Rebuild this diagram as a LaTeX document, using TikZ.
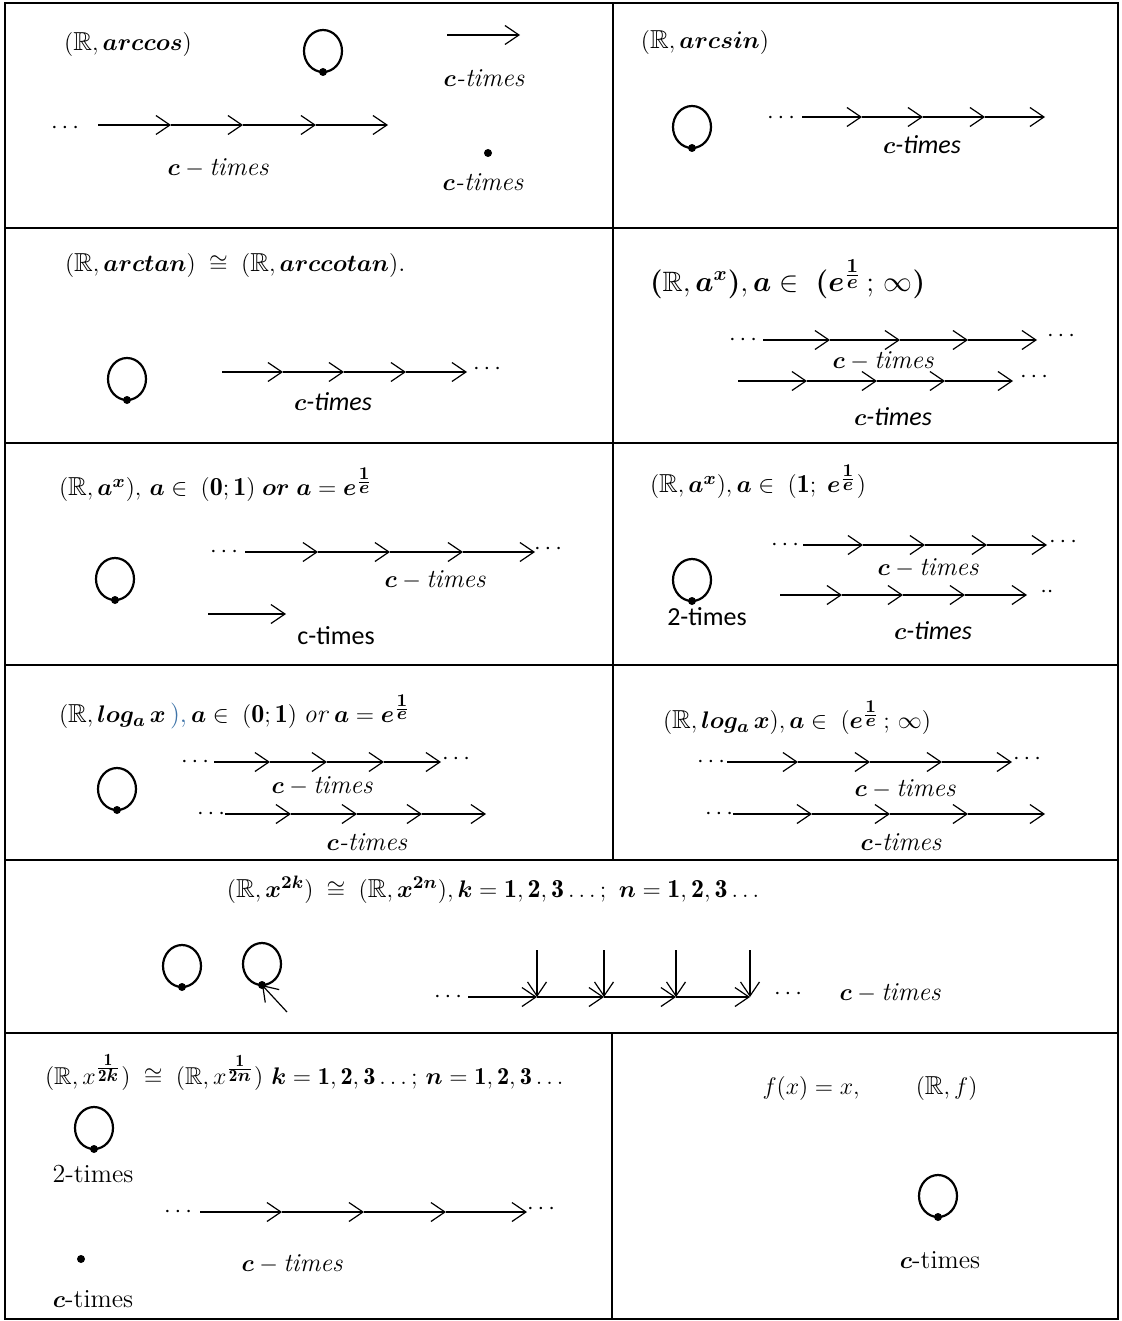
\documentclass[tikz,border=0pt]{standalone}
\usepackage{amsmath,amssymb,bm}
\usepackage{fontspec}
\newfontfamily\carlito{Carlito}
\usetikzlibrary{arrows.meta}
\definecolor{steel}{HTML}{3F74A8}
\newcommand\lp[3]{%
  \draw[loopc] (#2,#3) circle[x radius=19,y radius=21];
  \coordinate (#1) at (#2,#3+21);
  \fill (#1) circle[radius=4];}
\newcommand\chain[3]{%
  \foreach \xx [remember=\xx as \lx (initially #2)] in {#3} {\draw[arr] (\lx,#1) -- (\xx,#1);}}
\newcommand\ct{$\bm{c}$\textit{-times}}
\newcommand\cts{$\bm{c}${\carlito\itshape -times}}
\newcommand\cmt{$\bm{c}-\mathit{times}$}
\newcommand\ee{\bm{e^{\frac{\scriptstyle\mathbf{1}}{\scriptstyle e}}}}
\begin{document}
\begin{tikzpicture}[x=0.5pt,y=-0.5pt,
  every node/.style={inner sep=0pt,outer sep=0pt,font=\fontsize{13}{15}\selectfont},
  arr/.style={-{Straight Barb[length=7pt,width=9.5pt]},line width=0.6pt},
  loopc/.style={line width=1.1pt},
  frame/.style={line width=1.3pt}]
\useasboundingbox (0,0) rectangle (1122,1321);
% frame
\draw[frame] (5,3) rectangle (1118,1319);
\foreach \yy in {228,443,665,860,1033} \draw[frame] (5,\yy) -- (1118,\yy);
\draw[frame] (613,3) -- (613,860);
\draw[frame] (612,1033) -- (612,1319);

% ---------- row 1 left
\node (h1) at (128,45) {$(\mathbb{R},\bm{arccos})$};
\lp{l1}{323}{51}
\coordinate (a1) at (447,35); \coordinate (b1) at (520,35);
\draw[arr] (a1) -- (b1);
\node (t1a) at (484,78) {\ct};
\node (d1) at (67,128) {$\cdots$};
\chain{125}{98}{171,243,316,388}
\node (t1b) at (218,168) {\cmt};
\fill (488,153) circle[radius=4];
\node (t1c) at (483,182) {\ct};

% ---------- row 1 right
\node (h2) at (705,43) {$(\mathbb{R},\bm{arcsin})$};
\lp{l2}{692}{127}
\node (d2) at (783,118) {$\cdots$};
\chain{117}{802}{862,923,985,1045}
\node (t2) at (922,145) {\cts};

% ---------- row 2 left
\node[anchor=west] (h3) at (65,265) {$(\mathbb{R},\bm{arctan})\;\cong\;(\mathbb{R},\bm{arccotan})$.};
\lp{l3}{127}{379}
\chain{372}{222}{283,344,406,467}
\node (d3) at (489,369) {$\cdots$};
\node (t3) at (333,402) {\cts};

% ---------- row 2 right
\node[anchor=west,font=\fontsize{14}{17}\selectfont] (h4) at (650,279)
  {$\boldsymbol{(}\mathbb{R},\bm{a^x}\boldsymbol{)},\bm{a}\in\ \boldsymbol{(}\ee\,;\,\infty\boldsymbol{)}$};
\node (d4a) at (745,340) {$\cdots$};
\chain{340}{763}{830,900,968,1037}
\node (d4b) at (1063,336) {$\cdots$};
\node (t4a) at (883,361) {\cmt};
\chain{381}{738}{807,877,945,1013}
\node (d4c) at (1036,377) {$\cdots$};
\node (t4b) at (893,417) {\cts};

% ---------- row 3 left
\node[anchor=west] (h5) at (59,485)
  {$(\mathbb{R},\bm{a^x}),\,\bm{a}\in\;(\mathbf{0};\mathbf{1})\;\bm{or}\;\bm{a}=\ee$};
\lp{l5}{115}{579}
\node (d5a) at (226,552) {$\cdots$};
\chain{552}{245}{318,390,463,535}
\node (d5b) at (550,549) {$\cdots$};
\node (t5a) at (435,580) {\cmt};
\coordinate (a5) at (208,614); \coordinate (b5) at (286,614);
\draw[arr] (a5) -- (b5);
\node (t5b) at (336,636) {\carlito c-times};

% ---------- row 3 right
\node[anchor=west] (h6) at (650,482)
  {$(\mathbb{R},\bm{a^x}),\bm{a}\in\;(\mathbf{1};\;\ee)$};
\lp{l6}{692}{580}
\node (t6c) at (707,617) {\carlito 2-times};
\node (d6a) at (787,545) {$\cdots$};
\chain{545}{803}{863,925,987,1047}
\node (d6b) at (1065,542) {$\cdots$};
\node (t6a) at (928,568) {\cmt};
\chain{595}{780}{842,903,965,1027}
\node (d6c) at (1047,592) {$\cdot\cdot$};
\node (t6b) at (933,631) {\cts};

% ---------- row 4 left
\node[anchor=west] (h7) at (59,712)
  {$(\mathbb{R},\bm{log_a\,x}$\,\textcolor{steel}{),}$\,\bm{a}\in\;(\mathbf{0};\mathbf{1})\;\mathit{or}\;\bm{a}=\ee$};
\lp{l7}{117}{789}
\node (d7a) at (197,762) {$\cdots$};
\chain{762}{214}{270,327,384,441}
\node (d7b) at (458,759) {$\cdots$};
\node (t7a) at (322,786) {\cmt};
\node (d7c) at (213,814) {$\cdots$};
\chain{814}{225}{291,357,422,486}
\node (t7b) at (367,842) {\ct};

% ---------- row 4 right
\node[anchor=west] (h8) at (663,718)
  {$(\mathbb{R},\bm{log_a\,x}),\bm{a}\in\;(\ee\,;\,\infty)$};
\node (d8a) at (713,762) {$\cdots$};
\chain{762}{727}{798,870,942,1012}
\node (d8b) at (1029,759) {$\cdots$};
\node (t8a) at (905,789) {\cmt};
\node (d8c) at (721,814) {$\cdots$};
\chain{814}{733}{812,890,968,1045}
\node (t8b) at (901,842) {\ct};

% ---------- row 5
\node (h9) at (493,890)
  {$(\mathbb{R},\bm{x^{2k}})\;\cong\;(\mathbb{R},\bm{x^{2n}}),\bm{k}=\mathbf{1},\mathbf{2},\mathbf{3}\ldots;\ \bm{n}=\mathbf{1},\mathbf{2},\mathbf{3}\ldots$};
\lp{l9a}{182}{966}
\lp{l9b}{262}{964}
\coordinate (q9) at (287,1012);
\draw[arr] (q9) -- (l9b);
\node (d9a) at (450,997) {$\cdots$};
\chain{997}{468}{537,604,676,750}
\foreach \xx in {537,604,676,750} \draw[arr] (\xx,950) -- (\xx,997);
\node (d9b) at (790,994) {$\cdots$};
\node (t9) at (890,993) {\cmt};

% ---------- row 6 left
\node[anchor=west,font=\fontsize{12.2}{15}\selectfont] (h10) at (45,1072)
  {$(\mathbb{R},x^{\frac{\scriptstyle\mathbf{1}}{\scriptstyle\mathbf{2}\bm{k}}})\;\cong\;(\mathbb{R},x^{\frac{\scriptstyle\mathbf{1}}{\scriptstyle\mathbf{2}\bm{n}}})\ \bm{k}=\mathbf{1},\mathbf{2},\mathbf{3}\ldots;\,\bm{n}=\mathbf{1},\mathbf{2},\mathbf{3}\ldots$};
\lp{l10}{94}{1128}
\node (t10a) at (93,1174) {2-times};
\node (d10a) at (180,1212) {$\cdots$};
\chain{1212}{200}{282,364,446,527}
\node (d10b) at (543,1209) {$\cdots$};
\fill (81,1259) circle[radius=4];
\node (t10b) at (292,1264) {\cmt};
\node (t10c) at (93,1299) {$\bm{c}$-times};

% ---------- row 6 right
\node (h11) at (870,1088) {$f(x)=x,\qquad(\mathbb{R},f)$};
\lp{l11}{938}{1196}
\node (t11) at (940,1260) {$\bm{c}$-times};
\end{tikzpicture}
\end{document}
